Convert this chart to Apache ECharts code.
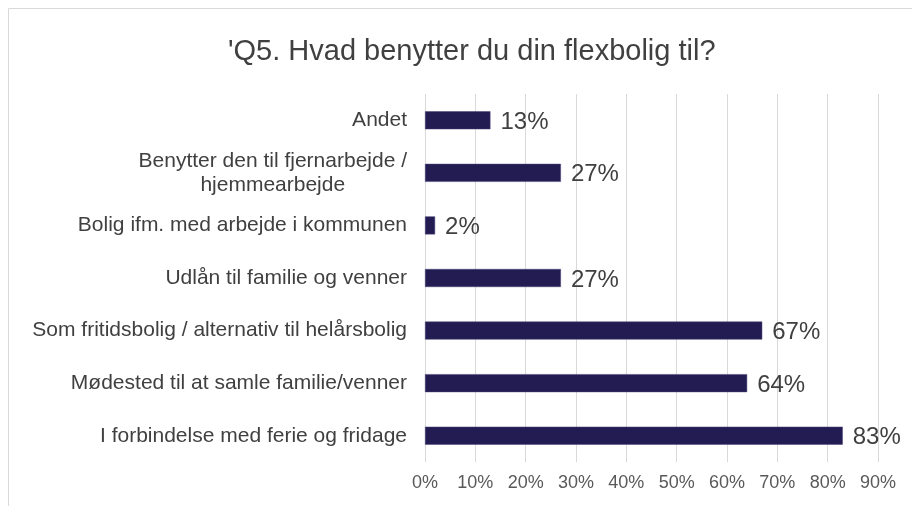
<!DOCTYPE html>
<html>
<head>
<meta charset="utf-8">
<script src="https://cdn.jsdelivr.net/npm/echarts@6/dist/echarts.min.js"></script>
<style>
  html, body { margin: 0; padding: 0; background: #fff; }
  #chart { width: 912px; height: 506px; }
</style>
</head>
<body>
<div id="chart"></div>
<script>
var categories = [
  'I forbindelse med ferie og fridage',
  'Mødested til at samle familie/venner',
  'Som fritidsbolig / alternativ til helårsbolig',
  'Udlån til familie og venner',
  'Bolig ifm. med arbejde i kommunen',
  'Benytter den til fjernarbejde /\nhjemmearbejde',
  'Andet'
];
var values = [83, 64, 67, 27, 2, 27, 13];

var chart = echarts.init(document.getElementById('chart'));

var option = {
  animation: false,
  textStyle: { fontFamily: 'Liberation Sans, Arial, sans-serif' },
  graphic: [{
    type: 'rect',
    shape: { x: 8.5, y: 8.5, width: 940, height: 540 },
    style: { fill: 'none', stroke: '#d9d9d9', lineWidth: 1 },
    silent: true
  }],
  title: {
    text: "'Q5. Hvad benytter du din flexbolig til?",
    left: 223,
    top: 32,
    textStyle: { fontSize: 29, fontWeight: 'normal', color: '#404040' }
  },
  grid: { left: 425, right: 34, top: 94, bottom: 44 },
  xAxis: {
    type: 'value',
    min: 0,
    max: 90,
    interval: 10,
    axisLine: { show: false },
    axisTick: { show: false },
    splitLine: { lineStyle: { color: '#d9d9d9', width: 1 } },
    axisLabel: {
      formatter: '{value}%',
      fontSize: 18,
      color: '#595959',
      margin: 12
    }
  },
  yAxis: {
    type: 'category',
    data: categories,
    axisLine: { show: false },
    axisTick: { show: false },
    axisLabel: {
      fontSize: 21,
      color: '#404040',
      margin: 18,
      lineHeight: 24,
      formatter: function (v) {
        return v.split('\n').map(function (s) { return '{c|' + s + '}'; }).join('\n');
      },
      rich: { c: { align: 'center', fontSize: 21, color: '#404040', lineHeight: 24 } }
    }
  },
  series: [{
    type: 'bar',
    data: values,
    barWidth: 18,
    itemStyle: { color: '#221c52', borderColor: '#4a4578', borderWidth: 0.5 },
    label: {
      show: true,
      position: 'right',
      distance: 10,
      formatter: '{c}%',
      fontSize: 24,
      color: '#404040',
      offset: [0, 2]
    }
  }]
};

chart.setOption(option);
</script>
</body>
</html>
